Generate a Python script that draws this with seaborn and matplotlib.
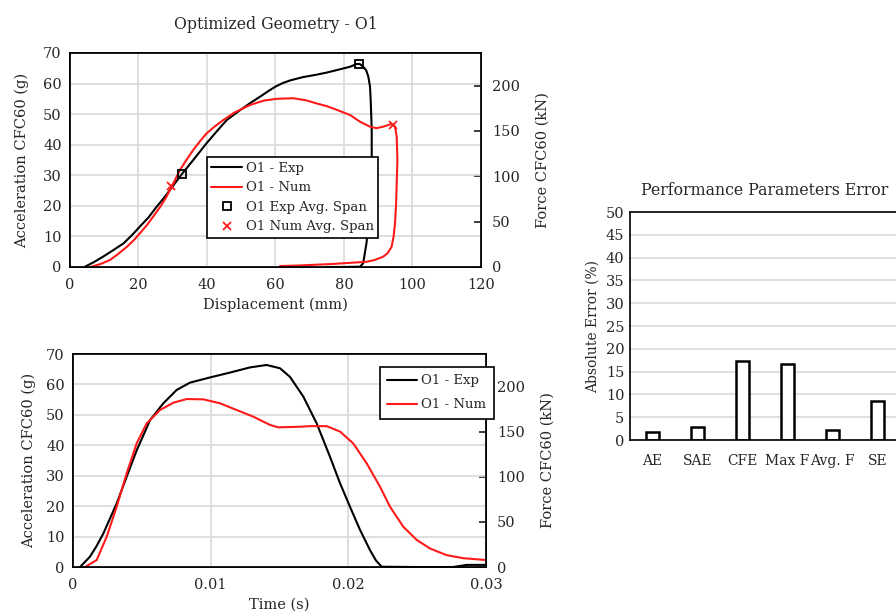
import numpy as np
import pandas as pd
import matplotlib
matplotlib.use("Agg")
import matplotlib.pyplot as plt
from matplotlib.lines import Line2D
import seaborn as sns

sns.set_theme(style="white")
plt.rcParams["font.family"] = ["DejaVu Serif"]
plt.rcParams["axes.edgecolor"] = "black"

# displacement (mm) vs acceleration (g) - experimental
disp_exp = [4.4, 7.0, 9.7, 12.5, 15.6, 18.0, 20.4, 23.0, 25.3, 27.3, 29.2, 32.6, 36.0,
            39.9, 42.8, 45.8, 49.3, 52.6, 55.5, 58.0, 60.0, 62.0, 64.2, 68.0, 72.0, 75.0,
            77.9, 81.8, 83.7, 84.6, 85.6, 86.5, 87.1, 87.6, 87.8, 88.1, 88.1, 87.5,
            86.6, 85.6, 84.7, 80.0, 75.0]
acc_exp = [0.1, 1.6, 3.4, 5.4, 7.7, 10.3, 13.2, 16.3, 19.7, 22.4, 25.2, 30.3, 35.0,
           40.5, 44.3, 48.1, 51.0, 53.6, 55.7, 57.6, 59.0, 60.1, 61.0, 62.1, 62.9, 63.6,
           64.4, 65.5, 66.4, 66.4, 65.5, 64.3, 62.3, 59.0, 54.6, 45.0, 36.1, 20.0,
           8.0, 1.2, 0.1, 0.0, 0.0]

# displacement (mm) vs acceleration (g) - numerical
disp_num = [6.3, 9.0, 11.7, 14.0, 16.6, 18.6, 20.4, 22.4, 24.3, 26.3, 28.2, 30.0, 32.1,
            34.0, 36.0, 38.0, 39.9, 42.3, 44.8, 48.0, 52.6, 56.5, 60.3, 65.2, 69.0,
            72.0, 75.0, 77.9, 81.8, 84.7, 87.6, 89.5, 91.5, 93.9, 94.9, 95.4, 95.6,
            95.4, 95.2, 94.9, 94.5, 93.9, 92.8, 91.5, 89.0, 86.6, 81.0, 76.9, 67.2,
            61.3]
acc_num = [0.1, 1.0, 2.3, 4.2, 6.6, 8.7, 11.0, 13.6, 16.5, 19.6, 23.0, 27.0, 31.7,
           35.0, 38.3, 41.2, 43.7, 46.0, 48.1, 50.5, 53.0, 54.4, 55.0, 55.2, 54.5,
           53.5, 52.6, 51.4, 49.7, 47.5, 45.9, 45.4, 45.9, 46.8, 45.9, 42.6, 35.0,
           27.4, 20.0, 14.3, 10.0, 6.6, 4.6, 3.4, 2.3, 1.7, 1.3, 1.0, 0.5,
           0.3]

exp_span_disp = [32.6, 84.3]
exp_span_acc = [30.3, 66.4]
num_span_disp = [29.5, 94.4]
num_span_acc = [26.5, 46.6]

# time (s) vs acceleration (g)
time_exp = [0.00051, 0.00123, 0.0017, 0.0022, 0.00317, 0.0039, 0.00463, 0.0056, 0.00656,
            0.00753, 0.0085, 0.00995, 0.0114, 0.01286, 0.01407, 0.01504, 0.01576, 0.01673,
            0.0177, 0.01867, 0.0194, 0.02012, 0.02085, 0.02157, 0.02200, 0.02242, 0.0250,
            0.0276, 0.0286, 0.0300]
acc_t_exp = [0.0, 3.4, 6.8, 11.0, 20.9, 29.7, 38.4, 48.3, 53.8,
             58.2, 60.6, 62.3, 63.9, 65.6, 66.4, 65.3, 62.5, 56.0,
             47.2, 36.2, 27.5, 19.8, 12.2, 5.6, 2.2, 0.1, 0.0,
             0.0, 0.7, 0.7]

time_num = [0.00087, 0.00172, 0.00245, 0.00317, 0.0039, 0.00463, 0.00535, 0.00632,
            0.00729, 0.00826, 0.00947, 0.01068, 0.01189, 0.0131, 0.01431, 0.01491,
            0.01649, 0.01721, 0.01843, 0.0194, 0.02036, 0.02133, 0.0223, 0.02303,
            0.024, 0.02497, 0.02593, 0.02714, 0.02835, 0.0300]
acc_t_num = [0.0, 2.3, 10.0, 19.8, 30.8, 40.7, 47.2, 51.6,
             54.0, 55.2, 55.1, 53.8, 51.6, 49.4, 46.7, 45.9,
             46.1, 46.3, 46.3, 44.5, 40.6, 34.1, 26.4, 19.8,
             13.2, 8.9, 6.1, 3.9, 2.9, 2.3]

# performance parameter errors
params = ["AE", "SAE", "CFE", "Max F", "Avg. F", "SE"]
abs_error = [1.7, 2.8, 17.3, 16.7, 2.2, 8.6]

FORCE_MAX = 236.0
GRID = "#d9d9d9"
RED = "#ff1a1a"
FS = 10.5

fig = plt.figure(figsize=(8.96, 6.16), dpi=100)
ax1 = fig.add_axes([0.0781, 0.5666, 0.4587, 0.3474])
ax2 = fig.add_axes([0.0815, 0.0795, 0.4609, 0.3458])
ax3 = fig.add_axes([0.7031, 0.2857, 0.3013, 0.3701])


def style_xy(ax, xlim, xticks, ypad):
    ax.set_xlim(*xlim)
    ax.set_ylim(0, 70)
    ax.set_xticks(xticks)
    ax.set_yticks(range(0, 71, 10))
    ax.grid(True, color=GRID, lw=1.2)
    ax.set_axisbelow(True)
    ax.tick_params(axis="x", direction="in", length=4, labelsize=FS, pad=8, color="black")
    ax.tick_params(axis="y", length=0, labelsize=FS, pad=6)
    for s in ax.spines.values():
        s.set_color("black")
        s.set_linewidth(1.2)
    ax.set_ylabel("Acceleration CFC60 (g)", fontsize=FS, labelpad=ypad)
    tw = ax.twinx()
    tw.set_ylim(0, FORCE_MAX)
    tw.set_yticks(range(0, 201, 50))
    tw.tick_params(axis="y", direction="in", length=5, labelsize=FS, pad=8)
    tw.set_ylabel("Force CFC60 (kN)", fontsize=FS, labelpad=11)
    tw.grid(False)
    # keep the data axes (and its legend) on top of the twin
    ax.set_zorder(tw.get_zorder() + 1)
    ax.patch.set_visible(False)
    return tw


# top: acceleration vs displacement
df_exp = pd.DataFrame({"x": disp_exp, "y": acc_exp})
df_num = pd.DataFrame({"x": disp_num, "y": acc_num})
sns.lineplot(data=df_exp, x="x", y="y", sort=False, estimator=None, color="black", lw=1.5, ax=ax1)
sns.lineplot(data=df_num, x="x", y="y", sort=False, estimator=None, color=RED, lw=1.5, ax=ax1)
ax1.plot(exp_span_disp, exp_span_acc, ls="none", marker="s", mfc="none", mec="black", ms=6, mew=1.3)
ax1.plot(num_span_disp, num_span_acc, ls="none", marker="x", color=RED, ms=6, mew=1.3)
style_xy(ax1, (0, 120), range(0, 121, 20), 10)
ax1.set_xlabel("Displacement (mm)", fontsize=FS, labelpad=4)
ax1.set_title("Optimized Geometry - O1", fontsize=11.3, pad=17)
handles = [
    Line2D([], [], color="black", lw=1.5),
    Line2D([], [], color=RED, lw=1.5),
    Line2D([], [], ls="none", marker="s", mfc="none", mec="black", ms=6, mew=1.3),
    Line2D([], [], ls="none", marker="x", color=RED, ms=6, mew=1.3),
]
leg = ax1.legend(handles, ["O1 - Exp", "O1 - Num", "O1 Exp Avg. Span", "O1 Num Avg. Span"],
                 loc="upper left", bbox_to_anchor=(0.333, 0.514), fontsize=9.5,
                 frameon=True, fancybox=False, framealpha=1, edgecolor="black",
                 handlelength=2.3, handletextpad=0.3, borderpad=0.35, labelspacing=0.5,
                 borderaxespad=0)
leg.get_frame().set_linewidth(1.2)

# bottom: acceleration vs time
dt_exp = pd.DataFrame({"t": time_exp, "y": acc_t_exp})
dt_num = pd.DataFrame({"t": time_num, "y": acc_t_num})
sns.lineplot(data=dt_exp, x="t", y="y", sort=False, estimator=None, color="black", lw=1.5, ax=ax2, label="O1 - Exp")
sns.lineplot(data=dt_num, x="t", y="y", sort=False, estimator=None, color=RED, lw=1.5, ax=ax2, label="O1 - Num")
style_xy(ax2, (0, 0.03), [0, 0.01, 0.02, 0.03], 7)
ax2.set_xticklabels(["0", "0.01", "0.02", "0.03"])
ax2.set_xlabel("Time (s)", fontsize=FS, labelpad=4)
leg2 = ax2.legend(loc="upper left", bbox_to_anchor=(0.743, 0.939), fontsize=9.5,
                  frameon=True, fancybox=False, framealpha=1, edgecolor="black",
                  handlelength=2.3, handletextpad=0.3, borderpad=0.55, labelspacing=0.85,
                  borderaxespad=0)
leg2.get_frame().set_linewidth(1.2)

# right: error bars
df_err = pd.DataFrame({"param": params, "err": abs_error})
sns.barplot(data=df_err, x="param", y="err", color="white", edgecolor="black",
            linewidth=1.8, width=0.3, ax=ax3)
ax3.set_xlim(-0.5, 5.5)
ax3.set_ylim(0, 50)
ax3.set_yticks(range(0, 51, 5))
ax3.grid(True, axis="y", color=GRID, lw=1.2)
ax3.set_axisbelow(True)
ax3.tick_params(axis="x", length=0, labelsize=10, pad=10)
ax3.tick_params(axis="y", length=0, labelsize=FS, pad=4)
ax3.set_xlabel("")
ax3.set_ylabel("Absolute Error (%)", fontsize=10, labelpad=4)
ax3.set_title("Performance Parameters Error", fontsize=11.3, pad=12)
for s in ax3.spines.values():
    s.set_color("black")
    s.set_linewidth(1.2)

fig.savefig("out.png", dpi=100)
